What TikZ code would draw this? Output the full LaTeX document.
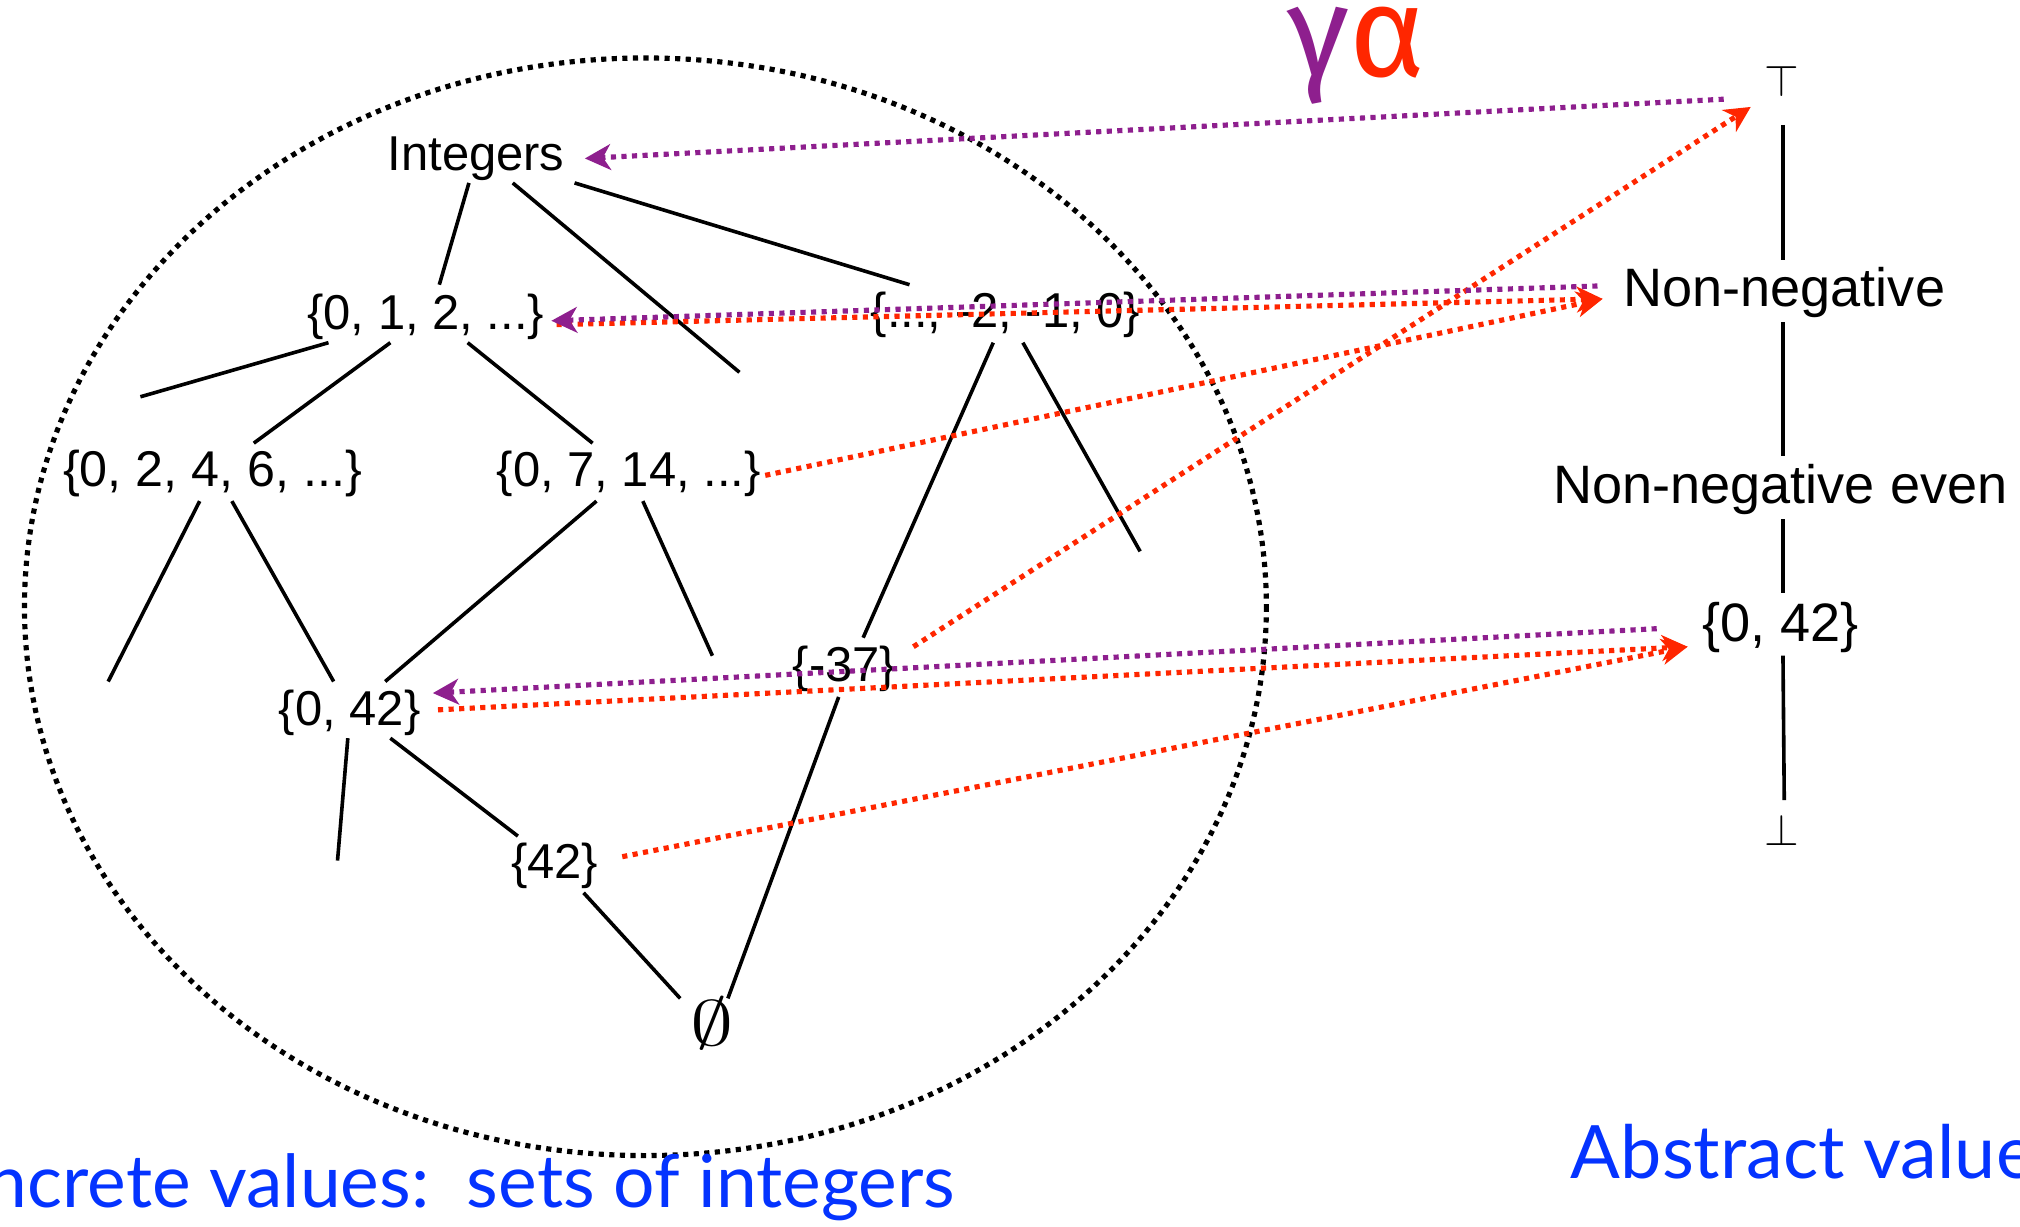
\documentclass[tikz,border=0pt]{standalone}
\usepackage{fontspec}
\setmainfont{Liberation Sans}
\newfontfamily\gillfont{Lato}
\newfontfamily\greekfont{Fira Sans}
\usetikzlibrary{arrows.meta}
\definecolor{gam}{HTML}{8E1F8E}
\definecolor{alp}{HTML}{FF2600}
\definecolor{bluet}{HTML}{0433FF}
\begin{document}
\begin{tikzpicture}[x=0.5pt,y=-0.5pt,
  conc/.style={font=\fontsize{19}{22}\selectfont, inner sep=0pt, anchor=base},
  abst/.style={font=\fontsize{21}{25}\selectfont, inner sep=0pt, anchor=base},
  lat/.style={line width=1.4pt},
  tipst/.style={-{Stealth[length=10pt,width=10pt,inset=3pt]}},
  gline/.style={gam, line width=2pt, dash pattern=on 2pt off 2.1pt, tipst},
  aline/.style={alp, line width=2pt, dash pattern=on 2pt off 2.1pt, tipst},
  ring/.style={black, line width=2pt, dash pattern=on 2pt off 2.1pt},
  blab/.style={bluet, inner sep=0pt}
]
\useasboundingbox (0,0) rectangle (1568,952);
\clip (0,0) rectangle (1568,952);

% dotted boundary of the concrete domain
\draw[ring] (501,471) ellipse [x radius=482, y radius=426];

% concrete lattice nodes
\node[conc] (int)   at (369.5,132) {Integers};
\node[conc] (s012)  at (330.5,256) {\{0, 1, 2, ...\}};
\node[conc] (sneg)  at (780.5,254) {\{..., -2, -1, 0\}};
\node[conc, font=\fontsize{19.5}{22}\selectfont] (s0246) at (165,378)   {\{0, 2, 4, 6, ...\}};
\node[conc] (s0714) at (488,378)   {\{0, 7, 14, ...\}};
\node[conc] (s042)  at (271.5,563) {\{0, 42\}};
\node[conc] (sm37)  at (655.5,529) {\{-37\}};
\node[conc] (s42)   at (430.5,682) {\{42\}};
\node[inner sep=0pt] (empty) at (553,794) {\fontsize{23}{26}\selectfont\scalebox{1.35}[1]{$\emptyset$}};

% dangling ends
\coordinate (d1) at (574,289);
\coordinate (d2) at (109,308);
\coordinate (d3) at (885,428);
\coordinate (d4) at (84,529);
\coordinate (d5) at (553,509);
\coordinate (d6) at (262,668);

% concrete lattice edges
\draw[lat] ([shift={(-5.5,10)}]int.base) -- ([shift={(10.5,-35)}]s012.base);
\draw[lat] ([shift={(28.5,10)}]int.base) -- (d1);
\draw[lat] ([shift={(76.5,10)}]int.base) -- ([shift={(-74.5,-33)}]sneg.base);
\draw[lat] ([shift={(-75.5,10)}]s012.base) -- (d2);
\draw[lat] ([shift={(-27.5,10)}]s012.base) -- ([shift={(32,-34)}]s0246.base);
\draw[lat] ([shift={(32.5,10)}]s012.base) -- ([shift={(-28,-34)}]s0714.base);
\draw[lat] ([shift={(-9.5,12)}]sneg.base) -- ([shift={(14.5,-34)}]sm37.base);
\draw[lat] ([shift={(13.5,12)}]sneg.base) -- (d3);
\draw[lat] ([shift={(-10,11)}]s0246.base) -- (d4);
\draw[lat] ([shift={(15,11)}]s0246.base) -- ([shift={(-12.5,-34)}]s042.base);
\draw[lat] ([shift={(-25,11)}]s0714.base) -- ([shift={(27.5,-34)}]s042.base);
\draw[lat] ([shift={(11,11)}]s0714.base) -- (d5);
\draw[lat] ([shift={(-1.5,10)}]s042.base) -- (d6);
\draw[lat] ([shift={(31.5,10)}]s042.base) -- ([shift={(-28.5,-33)}]s42.base);
\draw[lat] ([shift={(22.5,11)}]s42.base) -- ([shift={(-25,-19)}]empty.center);
\draw[lat] ([shift={(-4.5,12)}]sm37.base) -- ([shift={(12,-19)}]empty.center);

% abstract lattice
\node[inner sep=0pt] (top) at (1383,63) {\fontsize{18.5}{22}\selectfont$\top$};
\node[abst] (nn)   at (1385,238) {Non-negative};
\node[abst] (nne)  at (1382,391) {Non-negative even};
\node[abst] (a042) at (1382,498) {\{0, 42\}};
\node[inner sep=0pt] (bot) at (1383,644) {\fontsize{18.5}{22}\selectfont$\bot$};

\draw[lat] ([shift={(1,34)}]top.center) -- ([shift={(-1,-36)}]nn.base);
\draw[lat] ([shift={(-1,12)}]nn.base) -- ([shift={(2,-37)}]nne.base);
\draw[lat] ([shift={(2,12)}]nne.base) -- ([shift={(2,-38)}]a042.base);
\draw[lat] ([shift={(2,11)}]a042.base) -- ([shift={(2,-23)}]bot.center);

% alpha arrows (concrete -> abstract)
\draw[aline] ([shift={(101.5,-4)}]s012.base) -- ([shift={(-141,-6)}]nn.base);
\draw[aline] ([shift={(106,-9)}]s0714.base) -- ([shift={(-141,-6)}]nn.base);
\draw[aline] ([shift={(53.5,-27)}]sm37.base) -- ([shift={(-24,20)}]top.center);
\draw[aline] ([shift={(68.5,-12)}]s042.base) -- ([shift={(-72,4)}]a042.base);
\draw[aline] ([shift={(52.5,-17)}]s42.base) -- ([shift={(-72,4)}]a042.base);

% gamma arrows (abstract -> concrete)
\draw[gline] ([shift={(-45,14)}]top.center) -- ([shift={(84.5,-9)}]int.base);
\draw[gline] ([shift={(-145,-16)}]nn.base) -- ([shift={(97.5,-7)}]s012.base);
\draw[gline] ([shift={(-96,-10)}]a042.base) -- ([shift={(64.5,-25)}]s042.base);

% labels
\node[inner sep=0pt, anchor=base west, text height=24pt] (ga) at (999,59)
  {\greekfont\fontsize{50}{56}\selectfont\textcolor{gam}{γ}\textcolor{alp}{α}};
\node[blab, anchor=base east] (cv) at (742,937)
  {\gillfont\fontsize{28.4}{32}\selectfont Concrete values:\ \ sets of integers};
\node[blab, anchor=base west] (av) at (1219,915)
  {\gillfont\fontsize{28.6}{34}\selectfont Abstract values};
\end{tikzpicture}
\end{document}
